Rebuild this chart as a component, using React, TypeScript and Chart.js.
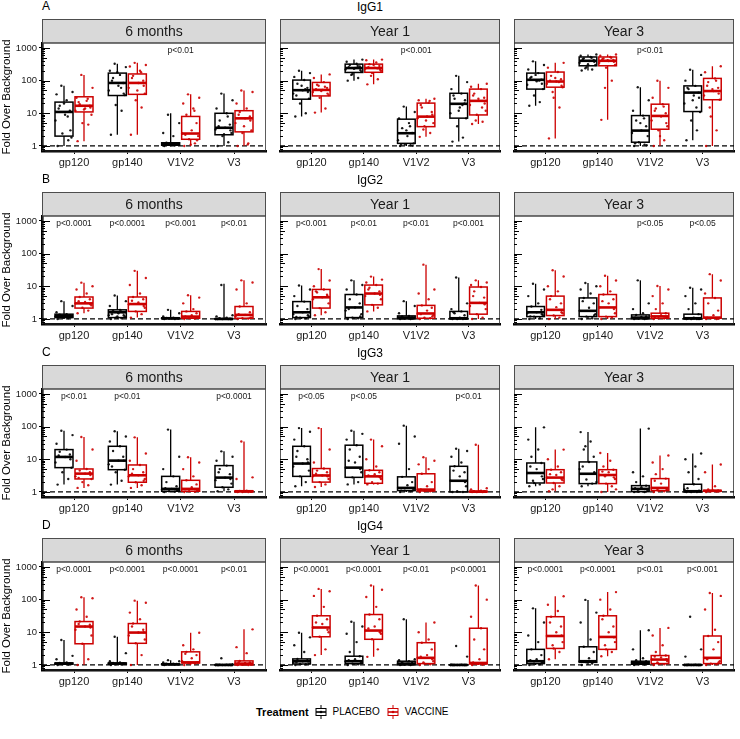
import React, { useEffect, useRef } from "react";
import { Chart, registerables } from "chart.js";

Chart.register(...registerables);

// ---------------- data ----------------
const CATEGORIES = ["gp120", "gp140", "V1V2", "V3"];
const TIMEPOINTS = ["6 months", "Year 1", "Year 3"];
const ISOTYPES = ["IgG1", "IgG2", "IgG3", "IgG4"];
const PANEL_LETTERS = ["A", "B", "C", "D"];
const TREATMENTS = ["PLACEBO", "VACCINE"];
const Y_TICKS = [1, 10, 100, 1000];

// box stats per antigen: [lower whisker, Q1, median, Q3, upper whisker]
// IgG1
const IGG1_M6_PLACEBO_BOX = [[1, 2.0, 11, 22, 70], [2.2, 35, 85, 170, 330], [1, 1.05, 1.15, 1.25, 10], [1, 2.2, 3.6, 10, 40]];
const IGG1_M6_VACCINE_BOX = [[1.4, 11, 17, 32, 150], [2.2, 38, 85, 160, 350], [1, 1.6, 2.4, 8, 38], [1, 2.7, 7, 12, 50]];
const IGG1_Y1_PLACEBO_BOX = [[8, 27, 51, 104, 200], [100, 178, 243, 320, 440], [1, 1.2, 2.45, 6.6, 16], [1.36, 7.1, 19.5, 41, 140]];
const IGG1_Y1_VACCINE_BOX = [[10.5, 34, 52, 88, 155], [77, 180, 243, 320, 440], [1.9, 3.9, 7.9, 20.5, 28], [4.7, 8.9, 24, 55, 80]];
const IGG1_Y3_PLACEBO_BOX = [[17, 55, 106, 170, 390], [205, 285, 405, 530, 630], [1, 1.3, 2.95, 8.5, 63], [1.5, 11.3, 43, 69, 215]];
const IGG1_Y3_VACCINE_BOX = [[1.7, 63, 94, 183, 350], [6.3, 285, 405, 530, 630], [1, 3.25, 8.3, 19, 99], [1, 26, 48, 117, 275]];
// IgG2
const IGG2_M6_PLACEBO_BOX = [[1, 1.1, 1.25, 1.4, 3.5], [1, 1.1, 1.6, 1.9, 5.2], [1, 1.02, 1.05, 1.08, 1.9], [1, 1, 1, 1.02, 12]];
const IGG2_M6_VACCINE_BOX = [[1.5, 2.15, 3.0, 4.7, 12.9], [1.1, 1.7, 2.86, 4.7, 29.7], [1, 1.05, 1.18, 1.7, 5.3], [1, 1.05, 1.33, 2.4, 15.2]];
const IGG2_Y1_PLACEBO_BOX = [[1, 1.1, 1.6, 3.4, 10.6], [1, 1.1, 2.25, 5.6, 15.2], [1, 1, 1.1, 1.24, 3.5], [1, 1, 1.05, 1.7, 18.5]];
const IGG2_Y1_VACCINE_BOX = [[1.3, 2.15, 4.6, 8, 33.6], [1.7, 2.7, 6, 10.9, 19.8], [1, 1.05, 1.47, 2.6, 46], [1, 1.4, 3.1, 9.5, 15.2]];
const IGG2_Y3_PLACEBO_BOX = [[1, 1.18, 1.6, 2.4, 12], [1, 1.18, 1.77, 4.4, 12.6], [1, 1, 1.1, 1.33, 15.2], [1, 1, 1.05, 1.4, 9]];
const IGG2_Y3_VACCINE_BOX = [[1, 1.27, 1.9, 5, 31], [1, 1.18, 2.25, 5.6, 21], [1, 1.05, 1.2, 1.5, 10.2], [1, 1.05, 1.1, 4.4, 23.5]];
// IgG3
const IGG3_M6_PLACEBO_BOX = [[1.68, 5.55, 11.8, 19.8, 75], [1.68, 4.8, 9.1, 25, 72], [1, 1.05, 1.24, 3.0, 81], [1.05, 1.39, 2.75, 6.4, 17.5]];
const IGG3_M6_VACCINE_BOX = [[1.33, 2.5, 3.64, 5.05, 48], [1.33, 1.98, 3.24, 6.7, 47], [1, 1.05, 1.24, 2.27, 11.5], [1, 1.02, 1.05, 1.08, 35]];
const IGG3_Y1_PLACEBO_BOX = [[1.5, 3, 7.4, 25, 90], [1.7, 2.8, 5.55, 27, 75], [1, 1.1, 1.33, 2.9, 107], [1, 1, 2.2, 6.1, 21]];
const IGG3_Y1_VACCINE_BOX = [[1.42, 2, 3.2, 5.2, 90], [1.7, 1.84, 3, 4.6, 40], [1, 1.07, 1.18, 3.6, 11.5], [1, 1, 1.02, 1.05, 28]];
const IGG3_Y3_PLACEBO_BOX = [[1.5, 1.88, 3.8, 7.7, 95], [1.5, 1.8, 3.6, 8.3, 68], [1, 1.02, 1.24, 1.56, 87], [1, 1, 1.05, 1.72, 15]];
const IGG3_Y3_VACCINE_BOX = [[1.05, 1.88, 2.75, 4.8, 19.8], [1, 1.8, 3.3, 4.8, 15.6], [1, 1.1, 1.33, 2.56, 13], [1, 1.05, 1.08, 1.12, 6.9]];
// IgG4
const IGG4_M6_PLACEBO_BOX = [[1, 1.05, 1.1, 1.15, 5.8], [1, 1.05, 1.1, 1.15, 7.3], [1, 1.02, 1.05, 1.08, 1.4], [1, 1, 1, 1.02, 1.02]];
const IGG4_M6_VACCINE_BOX = [[1, 4.45, 15, 21.3, 118], [1, 4.6, 9.8, 18.5, 93], [1, 1.15, 1.2, 2.52, 9.7], [1, 1, 1.1, 1.33, 12.3]];
const IGG4_Y1_PLACEBO_BOX = [[1, 1.07, 1.3, 1.53, 9.7], [1, 1.1, 1.3, 1.85, 21], [1, 1, 1.1, 1.3, 25], [1, 1, 1, 1.01, 1.01]];
const IGG4_Y1_VACCINE_BOX = [[2, 7.3, 14, 32, 213], [1.77, 6.1, 11.3, 35, 270], [1, 1.1, 1.65, 4.8, 20], [1, 1.07, 1.15, 13.3, 270]];
const IGG4_Y3_PLACEBO_BOX = [[1, 1.1, 1.3, 3, 54], [1, 1.2, 1.3, 3.6, 98], [1, 1.05, 1.15, 1.3, 11.5], [1, 1, 1, 1.02, 1.02]];
const IGG4_Y3_VACCINE_BOX = [[1.5, 3.2, 7.7, 30, 127], [1.85, 3, 7.2, 32, 170], [1, 1.1, 1.46, 1.94, 13.6], [1, 1.1, 1.65, 7.7, 160]];

// individual subjects (fold over background) per antigen
const IGG1_M6_PLACEBO_PTS = [
  [1.0, 1.5, 2.4, 1.8, 6, 9, 12, 17, 25, 38, 45, 70, 3, 14, 20, 8],
  [2.2, 12, 18, 36, 50, 70, 85, 120, 150, 200, 260, 330, 40, 100, 180, 60],
  [1, 1.05, 1.1, 1.1, 1.15, 1.15, 1.2, 1.25, 2, 2.5, 5, 9, 1.1, 1.2, 1.05, 1.15],
  [1, 1.3, 2, 2.5, 3.2, 3.6, 4.5, 6, 10, 14, 25, 40, 3, 4, 2.3, 8]];
const IGG1_M6_VACCINE_PTS = [
  [1.4, 4.5, 5, 9, 12, 14, 17, 19, 24, 30, 60, 150, 15, 22, 13, 28],
  [2.2, 15, 25, 40, 60, 85, 100, 140, 200, 270, 300, 350, 70, 120, 50, 180],
  [1, 1.2, 1.6, 2, 2.4, 3, 5, 9, 14, 20, 30, 38, 1.5, 2.2, 1.1, 12],
  [1, 1.2, 2.5, 3, 5, 7, 8, 11, 14, 20, 45, 50, 6, 9, 4, 1.1]];
const IGG1_Y1_PLACEBO_PTS = [
  [8, 10, 20, 28, 40, 51, 60, 80, 105, 130, 170, 200, 45, 35, 70, 55],
  [100, 120, 160, 190, 220, 243, 270, 300, 330, 380, 440, 150, 210, 260, 230, 280],
  [1, 1.05, 1.1, 1.2, 1.5, 2, 2.5, 3.5, 5, 7, 11, 16, 1.02, 1.1, 3, 4],
  [1.36, 1.8, 4, 7, 10, 15, 20, 28, 40, 55, 90, 140, 25, 35, 12, 18]];
const IGG1_Y1_VACCINE_PTS = [
  [10.5, 14, 30, 36, 45, 52, 60, 75, 90, 120, 155, 70, 40, 55, 48, 65],
  [77, 110, 170, 200, 230, 250, 280, 320, 360, 420, 440, 140, 220, 260, 300, 240],
  [1.9, 2.5, 4, 5, 7, 8, 11, 15, 21, 25, 28, 3.2, 9, 18, 6, 24],
  [4.7, 5.5, 9, 12, 18, 24, 30, 40, 55, 65, 80, 6, 20, 35, 28, 15]];
const IGG1_Y3_PLACEBO_PTS = [
  [17, 22, 35, 55, 75, 95, 106, 130, 170, 220, 300, 390, 80, 120, 150, 100],
  [205, 220, 260, 300, 350, 400, 430, 480, 530, 580, 630, 240, 380, 450, 320, 500],
  [1, 1.1, 1.3, 2, 2.5, 3, 4, 6, 8.5, 12, 25, 63, 1.05, 1.2, 5, 7],
  [1.5, 3, 6, 11, 20, 35, 43, 55, 69, 100, 150, 215, 30, 60, 25, 15]];
const IGG1_Y3_VACCINE_PTS = [
  [1.7, 15, 30, 63, 80, 94, 110, 140, 183, 250, 350, 45, 70, 100, 120, 90],
  [6.3, 100, 250, 300, 350, 400, 430, 480, 530, 580, 630, 60, 380, 450, 420, 500],
  [1, 1.5, 3, 4, 6, 8, 10, 14, 19, 30, 60, 99, 5, 12, 2, 16],
  [1, 3, 8, 26, 35, 48, 60, 90, 117, 180, 275, 15, 40, 70, 55, 100]];

const IGG2_M6_PLACEBO_PTS = [
  [1, 1.05, 1.1, 1.15, 1.2, 1.25, 1.3, 1.35, 1.4, 1.6, 2.5, 3.5, 1.2, 1.3, 1.1, 1.25],
  [1, 1.05, 1.1, 1.2, 1.3, 1.5, 1.6, 1.8, 1.9, 2.5, 3.5, 5.2, 1.3, 1.4, 1.2, 1.7],
  [1, 1, 1.02, 1.03, 1.05, 1.05, 1.06, 1.08, 1.1, 1.2, 1.5, 1.9, 1.04, 1.06],
  [1, 1, 1, 1, 1, 1.01, 1.02, 1.05, 1.1, 1.2, 1.3, 11, 1, 1.01]];
const IGG2_M6_VACCINE_PTS = [
  [1.5, 1.8, 2.2, 2.6, 3, 3.3, 4, 4.7, 6, 8, 10, 12.9, 2.8, 3.5],
  [1.1, 1.4, 1.7, 2.2, 2.8, 3.2, 4, 4.7, 6, 11, 18, 29.7, 2.5, 3.6],
  [1, 1.03, 1.05, 1.1, 1.18, 1.3, 1.5, 1.7, 2, 3, 4.5, 5.3, 1.1, 1.2],
  [1, 1.02, 1.05, 1.1, 1.2, 1.33, 1.6, 2.4, 3, 8, 13, 15.2, 1.1, 1.4]];
const IGG2_Y1_PLACEBO_PTS = [
  [1, 1.05, 1.1, 1.2, 1.4, 1.6, 2, 2.5, 3.4, 5, 8, 10.6, 1.3, 1.15],
  [1, 1.05, 1.1, 1.4, 1.8, 2.25, 3, 4, 5.6, 8, 11, 15.2, 1.2, 2],
  [1, 1, 1.02, 1.05, 1.08, 1.1, 1.12, 1.2, 1.24, 1.5, 2.5, 3.5, 1.05, 1.1],
  [1, 1, 1, 1.02, 1.05, 1.1, 1.3, 1.5, 1.7, 2, 3, 18.5, 1.05, 1.6]];
const IGG2_Y1_VACCINE_PTS = [
  [1.3, 1.6, 2.15, 3, 4, 4.6, 5.5, 6.5, 8, 10, 15, 33.6, 5, 7],
  [1.7, 2.2, 2.7, 4, 5, 6, 7, 9, 10.9, 13, 16, 19.8, 5.5, 8],
  [1, 1.05, 1.1, 1.3, 1.47, 1.8, 2.2, 2.6, 4, 6, 8, 46, 1.2, 1.4],
  [1, 1.1, 1.4, 2, 2.5, 3.1, 4.5, 7, 9.5, 11, 13, 15.2, 2.8, 5]];
const IGG2_Y3_PLACEBO_PTS = [
  [1, 1.05, 1.18, 1.3, 1.5, 1.6, 1.9, 2.4, 3, 5, 8, 12, 1.4, 1.2],
  [1, 1.05, 1.18, 1.4, 1.77, 2.2, 3, 4.4, 6, 8, 10, 12.6, 1.3, 3.5],
  [1, 1, 1.02, 1.05, 1.1, 1.15, 1.2, 1.33, 1.5, 2, 3, 15.2, 1.05, 1.1],
  [1, 1, 1, 1.02, 1.05, 1.1, 1.4, 2, 3, 5, 8, 9, 1, 1.02]];
const IGG2_Y3_VACCINE_PTS = [
  [1, 1.1, 1.27, 1.5, 1.9, 2.3, 3, 5, 7, 10, 20, 31, 1.6, 4],
  [1, 1.1, 1.18, 1.5, 2.25, 3, 4, 5.6, 7, 10, 15, 21, 2, 3.5],
  [1, 1.03, 1.05, 1.1, 1.2, 1.3, 1.5, 2, 3, 5, 8, 10.2, 1.1, 1.15],
  [1, 1, 1.05, 1.08, 1.1, 1.3, 1.8, 3, 4.4, 6, 15, 23.5, 1.02, 1.1]];

const IGG3_M6_PLACEBO_PTS = [
  [1.68, 2.5, 4, 5.5, 8, 11.8, 14, 17, 19.8, 30, 55, 75, 10, 13],
  [1.68, 2.2, 4, 4.8, 7, 9.1, 12, 18, 25, 35, 50, 72, 9, 6],
  [1, 1.02, 1.05, 1.1, 1.2, 1.24, 1.5, 2, 3, 5, 12, 81, 1.1, 1.3],
  [1.05, 1.2, 1.39, 1.8, 2.3, 2.75, 3.5, 5, 6.4, 9, 12, 17.5, 2.5, 4]];
const IGG3_M6_VACCINE_PTS = [
  [1.33, 1.6, 2, 2.5, 3, 3.64, 4, 4.5, 5.05, 9, 20, 48, 3.3, 2.7],
  [1.33, 1.6, 1.98, 2.5, 3, 3.24, 4, 5, 6.7, 9, 15, 47, 2.2, 3.6],
  [1, 1.02, 1.05, 1.1, 1.24, 1.4, 1.7, 2.27, 3, 5, 8, 11.5, 1.1, 1.2],
  [1, 1, 1, 1.02, 1.03, 1.05, 1.06, 1.08, 1.1, 2.5, 2.8, 35, 1.02, 1.04]];
const IGG3_Y1_PLACEBO_PTS = [
  [1.5, 2, 3, 4.5, 6, 7.4, 10, 18, 25, 40, 70, 90, 8, 12],
  [1.7, 2, 2.8, 4, 5.55, 8, 12, 20, 27, 40, 60, 75, 5, 9],
  [1, 1.05, 1.1, 1.2, 1.33, 1.6, 2, 2.9, 5, 30, 50, 107, 1.1, 1.3],
  [1, 1, 1.05, 1.5, 2.2, 3, 4, 6.1, 8, 12, 18, 21, 2, 4.5]];
const IGG3_Y1_VACCINE_PTS = [
  [1.42, 1.7, 2, 2.5, 3, 3.2, 4, 4.5, 5.2, 8, 20, 90, 3, 3.6],
  [1.7, 1.8, 2, 2.5, 3, 3.5, 4, 4.6, 6, 10, 25, 40, 2.8, 3.2],
  [1, 1.05, 1.07, 1.1, 1.18, 1.5, 2, 3.6, 5, 7, 9, 11.5, 1.1, 1.2],
  [1, 1, 1, 1.01, 1.02, 1.03, 1.05, 1.05, 1.1, 1.2, 1.3, 28, 1.02, 1.04]];
const IGG3_Y3_PLACEBO_PTS = [
  [1.5, 1.7, 1.88, 2.5, 3.8, 5, 7.7, 12, 20, 40, 95, 2.2, 3, 6],
  [1.5, 1.8, 2.4, 3.6, 5, 8.3, 12, 20, 35, 68, 2, 25, 4, 6],
  [1, 1, 1.02, 1.1, 1.24, 1.4, 1.56, 2, 3, 4, 87, 1.05, 1.2, 1.3],
  [1, 1, 1, 1.05, 1.2, 1.72, 2.5, 4, 6, 10, 15, 1.02, 1.1, 1.3]];
const IGG3_Y3_VACCINE_PTS = [
  [1.05, 1.5, 1.88, 2.3, 2.75, 3.3, 4, 4.8, 6, 10, 19.8, 1.2, 2.5, 3.5],
  [1, 1.5, 1.8, 2.5, 3.3, 4, 4.8, 6, 9, 15.6, 1.2, 3, 2.8, 4.2],
  [1, 1.05, 1.1, 1.2, 1.33, 1.8, 2.56, 3.5, 5, 8, 13, 1.15, 1.25, 2.2],
  [1, 1.02, 1.05, 1.06, 1.08, 1.1, 1.12, 1.2, 1.5, 4, 6.9, 1.04, 1.05, 1.07]];

const IGG4_M6_PLACEBO_PTS = [
  [1, 1.02, 1.05, 1.07, 1.1, 1.1, 1.12, 1.15, 1.2, 1.5, 1.9, 5.8, 1.08, 1.12],
  [1, 1.02, 1.05, 1.08, 1.1, 1.1, 1.12, 1.15, 1.2, 1.3, 2.3, 7.3, 1.1, 1.13],
  [1, 1.02, 1.03, 1.05, 1.05, 1.06, 1.08, 1.1, 1.1, 1.2, 1.3, 1.4, 1.04, 1.07],
  [1, 1, 1, 1, 1, 1, 1.01, 1.01, 1.02, 1.02, 1.05, 1.6, 1, 1]];
const IGG4_M6_VACCINE_PTS = [
  [1, 1.5, 4.45, 8, 12, 15, 17, 21.3, 30, 50, 110, 118, 14, 18],
  [1, 2, 4.6, 6, 8, 9.8, 12, 18.5, 25, 40, 80, 93, 10, 15],
  [1, 1.1, 1.15, 1.2, 1.3, 1.6, 2, 2.52, 3, 4, 9.7, 1.18, 1.2, 2.2],
  [1, 1, 1.02, 1.05, 1.1, 1.15, 1.2, 1.33, 2.3, 3.5, 12.3, 1.05, 1.1, 1.2]];
const IGG4_Y1_PLACEBO_PTS = [
  [1, 1.05, 1.07, 1.1, 1.2, 1.3, 1.4, 1.53, 2.5, 4, 7, 9.7, 1.3, 1.2],
  [1, 1.05, 1.1, 1.2, 1.3, 1.5, 1.85, 2.5, 5, 9, 15, 21, 1.3, 1.4],
  [1, 1, 1.02, 1.05, 1.1, 1.1, 1.15, 1.2, 1.3, 1.4, 1.5, 25, 1.1, 1.05],
  [1, 1, 1, 1, 1, 1, 1, 1, 1.01, 1.02, 1.8, 3.8, 1, 1]];
const IGG4_Y1_VACCINE_PTS = [
  [2, 3, 7.3, 10, 14, 18, 25, 32, 60, 130, 180, 213, 12, 20],
  [1.77, 3, 6.1, 9, 11.3, 15, 25, 35, 60, 120, 200, 270, 10, 13],
  [1, 1.05, 1.1, 1.3, 1.65, 2, 3, 4.8, 6, 10, 20, 1.2, 1.5, 1.8],
  [1, 1.02, 1.07, 1.1, 1.15, 1.5, 3, 6, 13.3, 30, 100, 270, 1.1, 1.2]];
const IGG4_Y3_PLACEBO_PTS = [
  [1, 1.05, 1.1, 1.2, 1.3, 1.5, 2, 3, 5, 8, 20, 54, 1.2, 1.4],
  [1, 1.1, 1.2, 1.25, 1.3, 1.6, 2.5, 3.6, 6, 20, 40, 98, 1.25, 1.3],
  [1, 1.02, 1.05, 1.1, 1.15, 1.2, 1.3, 1.4, 1.6, 3, 11.5, 1.08, 1.12, 1.2],
  [1, 1, 1, 1, 1, 1, 1, 1.01, 1.02, 1.8, 3, 30, 1, 1]];
const IGG4_Y3_VACCINE_PTS = [
  [1.5, 2.5, 3.2, 5, 7.7, 10, 15, 30, 45, 70, 127, 4, 8, 20],
  [1.85, 2.5, 3, 5, 7.2, 10, 15, 32, 50, 100, 170, 4, 7, 25],
  [1, 1.05, 1.1, 1.3, 1.46, 1.7, 1.94, 2.5, 4, 8, 13.6, 1.2, 1.5, 1.8],
  [1, 1.05, 1.1, 1.3, 1.65, 3, 5, 7.7, 12, 50, 130, 160, 1.2, 1.5]];

// p-value labels per timepoint, per antigen
const IGG1_PVALUES = [["", "", "p<0.01", ""], ["", "", "p<0.001", ""], ["", "", "p<0.01", ""]];
const IGG2_PVALUES = [["p<0.0001", "p<0.0001", "p<0.001", "p<0.01"], ["p<0.001", "p<0.01", "p<0.01", "p<0.001"], ["", "", "p<0.05", "p<0.05"]];
const IGG3_PVALUES = [["p<0.01", "p<0.01", "", "p<0.0001"], ["p<0.05", "p<0.05", "", "p<0.01"], ["", "", "", ""]];
const IGG4_PVALUES = [["p<0.0001", "p<0.0001", "p<0.0001", "p<0.01"], ["p<0.0001", "p<0.0001", "p<0.01", "p<0.0001"], ["p<0.0001", "p<0.0001", "p<0.01", "p<0.001"]];

// table built from the arrays above: [row][col]
const PANELS = [
  [
    { pBox: IGG1_M6_PLACEBO_BOX, vBox: IGG1_M6_VACCINE_BOX, pPts: IGG1_M6_PLACEBO_PTS, vPts: IGG1_M6_VACCINE_PTS, pv: IGG1_PVALUES[0] },
    { pBox: IGG1_Y1_PLACEBO_BOX, vBox: IGG1_Y1_VACCINE_BOX, pPts: IGG1_Y1_PLACEBO_PTS, vPts: IGG1_Y1_VACCINE_PTS, pv: IGG1_PVALUES[1] },
    { pBox: IGG1_Y3_PLACEBO_BOX, vBox: IGG1_Y3_VACCINE_BOX, pPts: IGG1_Y3_PLACEBO_PTS, vPts: IGG1_Y3_VACCINE_PTS, pv: IGG1_PVALUES[2] },
  ],
  [
    { pBox: IGG2_M6_PLACEBO_BOX, vBox: IGG2_M6_VACCINE_BOX, pPts: IGG2_M6_PLACEBO_PTS, vPts: IGG2_M6_VACCINE_PTS, pv: IGG2_PVALUES[0] },
    { pBox: IGG2_Y1_PLACEBO_BOX, vBox: IGG2_Y1_VACCINE_BOX, pPts: IGG2_Y1_PLACEBO_PTS, vPts: IGG2_Y1_VACCINE_PTS, pv: IGG2_PVALUES[1] },
    { pBox: IGG2_Y3_PLACEBO_BOX, vBox: IGG2_Y3_VACCINE_BOX, pPts: IGG2_Y3_PLACEBO_PTS, vPts: IGG2_Y3_VACCINE_PTS, pv: IGG2_PVALUES[2] },
  ],
  [
    { pBox: IGG3_M6_PLACEBO_BOX, vBox: IGG3_M6_VACCINE_BOX, pPts: IGG3_M6_PLACEBO_PTS, vPts: IGG3_M6_VACCINE_PTS, pv: IGG3_PVALUES[0] },
    { pBox: IGG3_Y1_PLACEBO_BOX, vBox: IGG3_Y1_VACCINE_BOX, pPts: IGG3_Y1_PLACEBO_PTS, vPts: IGG3_Y1_VACCINE_PTS, pv: IGG3_PVALUES[1] },
    { pBox: IGG3_Y3_PLACEBO_BOX, vBox: IGG3_Y3_VACCINE_BOX, pPts: IGG3_Y3_PLACEBO_PTS, vPts: IGG3_Y3_VACCINE_PTS, pv: IGG3_PVALUES[2] },
  ],
  [
    { pBox: IGG4_M6_PLACEBO_BOX, vBox: IGG4_M6_VACCINE_BOX, pPts: IGG4_M6_PLACEBO_PTS, vPts: IGG4_M6_VACCINE_PTS, pv: IGG4_PVALUES[0] },
    { pBox: IGG4_Y1_PLACEBO_BOX, vBox: IGG4_Y1_VACCINE_BOX, pPts: IGG4_Y1_PLACEBO_PTS, vPts: IGG4_Y1_VACCINE_PTS, pv: IGG4_PVALUES[1] },
    { pBox: IGG4_Y3_PLACEBO_BOX, vBox: IGG4_Y3_VACCINE_BOX, pPts: IGG4_Y3_PLACEBO_PTS, vPts: IGG4_Y3_VACCINE_PTS, pv: IGG4_PVALUES[2] },
  ],
];

// ---------------- layout & style ----------------
const FONT = "'Liberation Sans', Arial, Helvetica, sans-serif";
const INK = "#000000";
const RED = "#cc0000";
const PANEL_LEFTS = [42, 276, 510];
const PANEL_W = 227;
const Y_AXIS_W = 42;
const ROW_TOPS = [19, 192, 365, 538];
const STRIP_H = 24;
const PLOT_H = 108;
const XLAB_H = 22;
const X_MIN = 0.4;
const X_MAX = 4.6;
const Y_MIN = 0.7;
const Y_MAX = 1420;
const DODGE = 0.1875;
const JITTER = [-0.12, 0.08, -0.03, 0.14, -0.16, 0.02, 0.11, -0.08, 0.05, -0.14, 0.16, -0.05, 0.12, -0.1, 0.0, 0.07];

function toPoints(groups: number[][], off: number) {
  const out: { x: number; y: number }[] = [];
  groups.forEach((g, ci) => {
    g.forEach((v, k) => {
      out.push({ x: ci + 1 + off + JITTER[k % JITTER.length], y: v });
    });
  });
  return out;
}

function makePanelPlugin(title: string, panel: any) {
  return {
    id: "panelDecor",
    beforeDatasetsDraw(chart: any) {
      const { ctx, chartArea: a, scales } = chart;
      const x = scales.x;
      const y = scales.y;
      ctx.save();
      // strip
      ctx.fillStyle = "#d9d9d9";
      ctx.fillRect(a.left, 0.5, a.right - a.left, a.top - 0.5);
      ctx.strokeStyle = "#4d4d4d";
      ctx.lineWidth = 1;
      ctx.strokeRect(a.left + 0.5, 0.5, a.right - a.left - 1, a.top - 0.5);
      ctx.fillStyle = "#1a1a1a";
      ctx.font = `14px ${FONT}`;
      ctx.textAlign = "center";
      ctx.textBaseline = "middle";
      ctx.fillText(title, (a.left + a.right) / 2, a.top / 2 + 1);
      // panel border
      ctx.strokeStyle = "#333333";
      ctx.lineWidth = 0.8;
      ctx.strokeRect(a.left + 0.5, a.top, a.right - a.left - 1, a.bottom - a.top);
      // log ticks
      ctx.strokeStyle = INK;
      ctx.lineWidth = 1;
      for (let e = -1; e <= 3; e++) {
        for (let m = 1; m <= 9; m++) {
          const v = m * Math.pow(10, e);
          if (v < Y_MIN || v > Y_MAX) continue;
          const py = Math.round(y.getPixelForValue(v)) + 0.5;
          const len = m === 1 ? 8 : m === 5 ? 5 : 3;
          ctx.beginPath();
          ctx.moveTo(a.left, py);
          ctx.lineTo(a.left + len, py);
          ctx.stroke();
        }
      }
      // dashed reference line at 1
      const y1 = y.getPixelForValue(1);
      ctx.setLineDash([5, 3]);
      ctx.lineWidth = 1.3;
      ctx.beginPath();
      ctx.moveTo(a.left, y1);
      ctx.lineTo(a.right, y1);
      ctx.stroke();
      ctx.setLineDash([]);
      // boxes
      const drawBoxes = (boxes: number[][], off: number, color: string) => {
        boxes.forEach((b, ci) => {
          const cx = x.getPixelForValue(ci + 1 + off);
          const x0 = x.getPixelForValue(ci + 1 + off - DODGE) + 1;
          const x1 = x.getPixelForValue(ci + 1 + off + DODGE) - 1;
          const [lo, q1, med, q3, hi] = b.map((v) => y.getPixelForValue(v));
          ctx.strokeStyle = color;
          ctx.lineWidth = 1.3;
          ctx.beginPath();
          ctx.moveTo(cx, hi);
          ctx.lineTo(cx, q3);
          ctx.moveTo(cx, q1);
          ctx.lineTo(cx, lo);
          ctx.stroke();
          ctx.lineWidth = 1.5;
          ctx.strokeRect(x0, q3, x1 - x0, q1 - q3);
          ctx.lineWidth = 2.6;
          ctx.beginPath();
          ctx.moveTo(x0, med);
          ctx.lineTo(x1, med);
          ctx.stroke();
        });
      };
      drawBoxes(panel.pBox, -DODGE, INK);
      drawBoxes(panel.vBox, DODGE, RED);
      // p-values
      ctx.fillStyle = "#1a1a1a";
      ctx.font = `8.5px ${FONT}`;
      ctx.textAlign = "center";
      ctx.textBaseline = "middle";
      panel.pv.forEach((t: string, ci: number) => {
        if (t) ctx.fillText(t, x.getPixelForValue(ci + 1), a.top + 7.5);
      });
      ctx.restore();
    },
  };
}

function Panel({ row, col }: { row: number; col: number }) {
  const ref = useRef<HTMLCanvasElement | null>(null);
  const first = col === 0;
  const width = PANEL_W + 1 + (first ? Y_AXIS_W : 0);
  const height = STRIP_H + PLOT_H + XLAB_H;
  const left = first ? 0 : PANEL_LEFTS[col];
  useEffect(() => {
    const panel = PANELS[row][col];
    const chart = new Chart(ref.current as HTMLCanvasElement, {
      type: "scatter",
      data: {
        datasets: [
          {
            label: TREATMENTS[0],
            data: toPoints(panel.pPts, -DODGE),
            backgroundColor: "rgba(0,0,0,0.9)",
            borderWidth: 0,
            pointRadius: 1.2,
          },
          {
            label: TREATMENTS[1],
            data: toPoints(panel.vPts, DODGE),
            backgroundColor: "rgba(204,0,0,0.9)",
            borderWidth: 0,
            pointRadius: 1.2,
          },
        ],
      },
      options: {
        animation: false,
        responsive: false,
        maintainAspectRatio: false,
        events: [],
        layout: { padding: { top: STRIP_H, left: 0, right: 1, bottom: 0 } },
        plugins: { legend: { display: false }, tooltip: { enabled: false }, title: { display: false } },
        scales: {
          x: {
            type: "linear",
            min: X_MIN,
            max: X_MAX,
            afterBuildTicks: (s: any) => {
              s.ticks = CATEGORIES.map((_, i) => ({ value: i + 1 }));
            },
            afterFit: (s: any) => {
              s.height = XLAB_H;
            },
            ticks: {
              callback: (v: any) => CATEGORIES[Number(v) - 1],
              font: { family: FONT, size: 11 },
              color: "#1a1a1a",
              padding: 2,
              maxRotation: 0,
              autoSkip: false,
            },
            grid: { drawOnChartArea: false, drawTicks: true, tickLength: 3, color: INK, lineWidth: 1 },
            border: { display: true, color: INK, width: 2.6 },
          },
          y: {
            type: "logarithmic",
            min: Y_MIN,
            max: Y_MAX,
            display: first,
            afterBuildTicks: (s: any) => {
              s.ticks = Y_TICKS.map((v) => ({ value: v }));
            },
            afterFit: (s: any) => {
              s.width = first ? Y_AXIS_W : 0;
            },
            ticks: {
              callback: (v: any) => String(v),
              font: { family: FONT, size: 9.5 },
              color: "#1a1a1a",
              padding: 2,
              autoSkip: false,
            },
            grid: { drawOnChartArea: false, drawTicks: true, tickLength: 3, color: INK, lineWidth: 1 },
            border: { display: true, color: INK, width: 2.6 },
            title: {
              display: true,
              text: "Fold Over Background",
              font: { family: FONT, size: 11.5 },
              color: "#000",
              padding: { top: 0, bottom: 0 },
            },
          },
        },
      },
      plugins: [makePanelPlugin(TIMEPOINTS[col], panel)],
    } as any);
    return () => chart.destroy();
  }, [row, col]);
  return (
    <canvas
      ref={ref}
      width={width}
      height={height}
      style={{ position: "absolute", left, top: ROW_TOPS[row], width, height }}
    />
  );
}

function KeyIcon({ color }: { color: string }) {
  return (
    <svg width="14" height="14" style={{ display: "block" }}>
      <line x1="7" y1="0" x2="7" y2="3.5" stroke={color} strokeWidth="1" />
      <rect x="2" y="3.5" width="10" height="7" fill="#fff" stroke={color} strokeWidth="1" />
      <line x1="2" y1="7" x2="12" y2="7" stroke={color} strokeWidth="1.6" />
      <line x1="7" y1="10.5" x2="7" y2="14" stroke={color} strokeWidth="1" />
      <circle cx="7" cy="7" r="1.3" fill={color} />
    </svg>
  );
}

export default function App() {
  return (
    <div
      style={{
        position: "absolute",
        left: 0,
        top: 0,
        width: 740,
        height: 739,
        background: "#ffffff",
        fontFamily: FONT,
        overflow: "hidden",
      }}
    >
      {ISOTYPES.map((iso, r) => (
        <React.Fragment key={iso}>
          <div
            style={{
              position: "absolute",
              left: 42,
              top: ROW_TOPS[r] - 13,
              transform: "translateY(-50%)",
              fontSize: 12,
              color: "#000",
              lineHeight: "14px",
            }}
          >
            {PANEL_LETTERS[r]}
          </div>
          <div
            style={{
              position: "absolute",
              left: 370,
              top: ROW_TOPS[r] - 12,
              transform: "translate(-50%, -50%)",
              fontSize: 12,
              color: "#000",
              lineHeight: "14px",
            }}
          >
            {iso}
          </div>
          {TIMEPOINTS.map((tp, c) => (
            <Panel key={tp} row={r} col={c} />
          ))}
        </React.Fragment>
      ))}
      <div
        style={{
          position: "absolute",
          left: 256,
          top: 705,
          display: "flex",
          alignItems: "center",
          fontSize: 10,
          color: "#000",
          lineHeight: "14px",
        }}
      >
        <span style={{ fontWeight: "bold", fontSize: 11, marginRight: 5 }}>Treatment</span>
        <KeyIcon color={INK} />
        <span style={{ marginLeft: 5, marginRight: 6 }}>{TREATMENTS[0]}</span>
        <KeyIcon color={RED} />
        <span style={{ marginLeft: 5 }}>{TREATMENTS[1]}</span>
      </div>
    </div>
  );
}
